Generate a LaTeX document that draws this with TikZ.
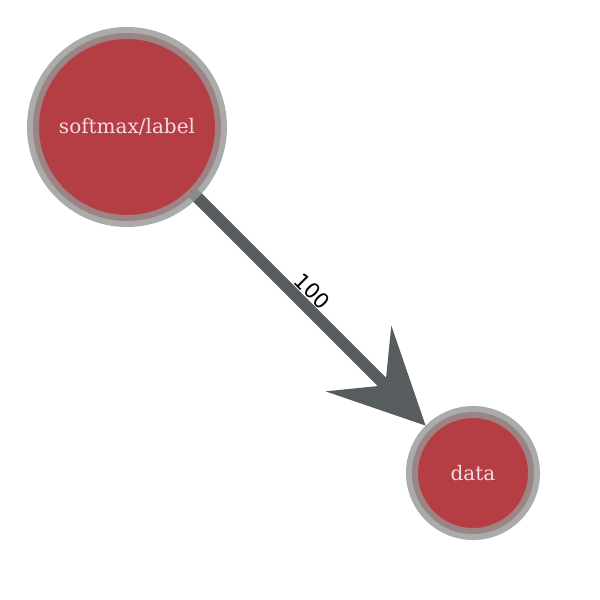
\documentclass[tikz,border=0pt]{standalone}
\usepackage{fontspec}
\setmainfont{DejaVu Serif}
\newfontfamily\edgefont{DejaVu Sans}
\usetikzlibrary{arrows.meta,backgrounds}
\definecolor{nodered}{RGB}{180,62,67}
\definecolor{ringgray}{RGB}{150,150,150}
\definecolor{edgegray}{RGB}{87,92,94}
\definecolor{nodetext}{RGB}{245,218,228}
\tikzset{
  graphnode/.style={circle, fill=nodered, draw=ringgray, draw opacity=0.8,
    line width=12pt, inner sep=0pt, text=nodetext, font=\fontsize{20}{22}\selectfont},
  graphedge/.style={draw=edgegray, line width=12pt,
    -{Stealth[length=95pt, width=93pt, inset=38pt, line width=0pt]}},
  edgelabel/.style={font=\edgefont\fontsize{21}{24}\selectfont, text=black, inner sep=0pt}
}
\begin{document}
\begin{tikzpicture}[x=1pt, y=-1pt]
\useasboundingbox (0,0) rectangle (600,600);
\node[graphnode, minimum size=188pt] (softmax) at (127,127) {softmax/label};
\node[graphnode, minimum size=122pt] (data) at (473,473) {data};
\begin{pgfonlayer}{background}
\draw[graphedge] (softmax.center) -- (data)
  node[edgelabel, pos=0.585, sloped, yshift=15pt] {100};
\end{pgfonlayer}
\end{tikzpicture}
\end{document}
